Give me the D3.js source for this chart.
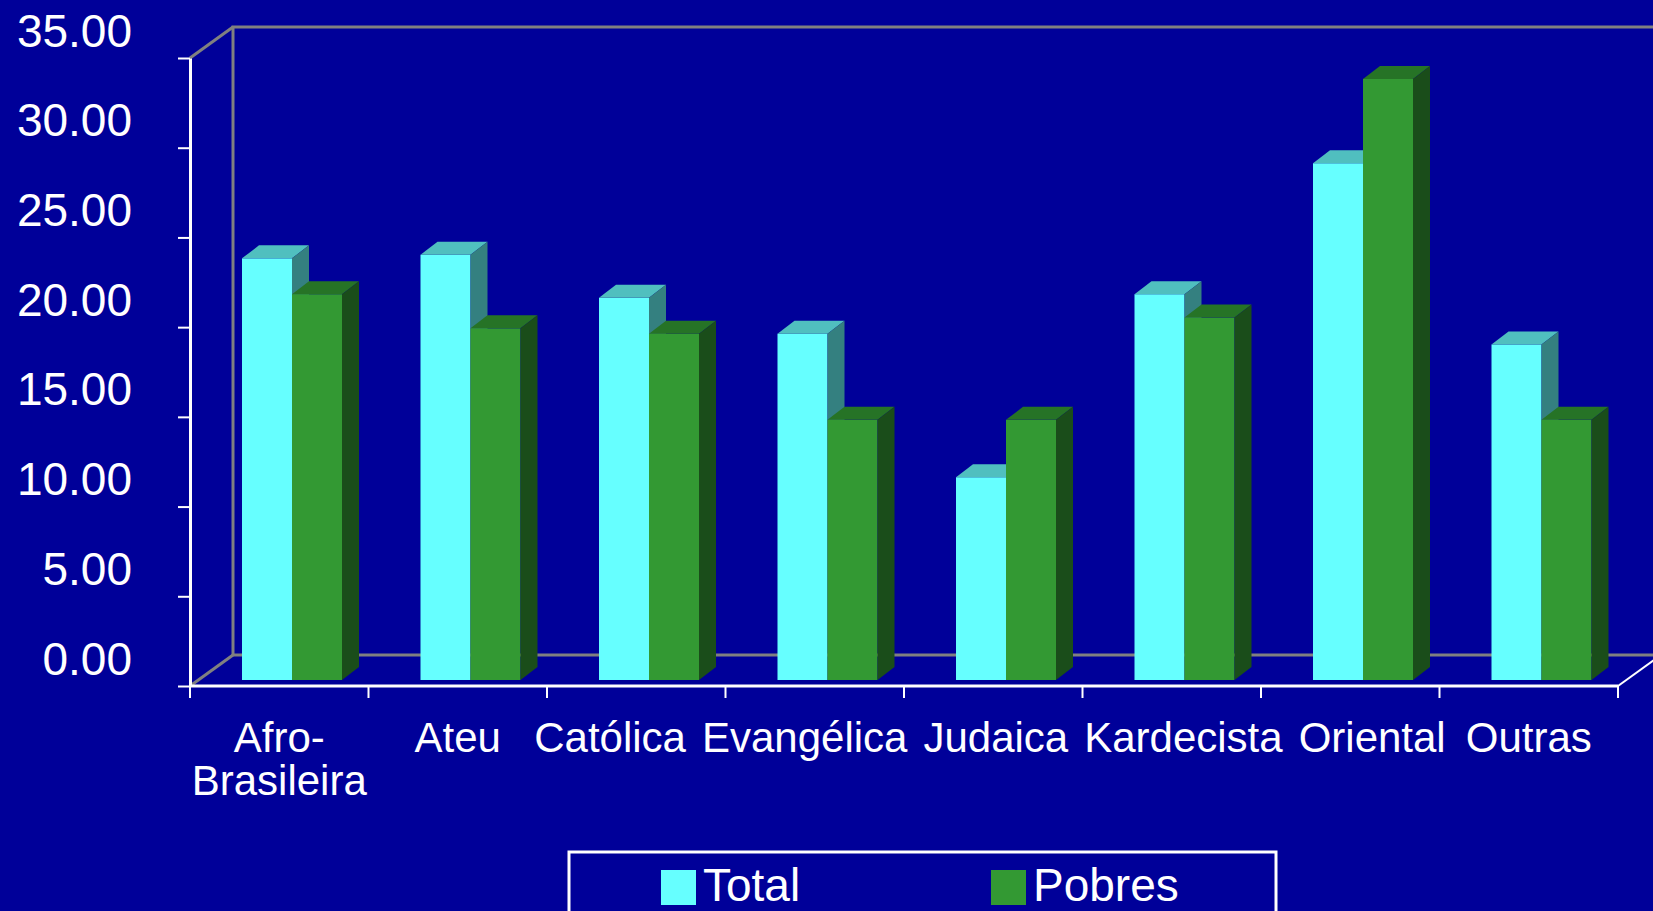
<!DOCTYPE html>
<html>
<head>
<meta charset="utf-8">
<script src="https://cdn.jsdelivr.net/npm/d3@7"></script>
<style>
  body { margin: 0; background: #000099; }
  svg { display: block; font-family: "Liberation Sans", Arial, sans-serif; }
</style>
</head>
<body>
<svg id="viz"></svg>
<script>
// data
const categories = ["Afro-Brasileira", "Ateu", "Católica", "Evangélica", "Judaica", "Kardecista", "Oriental", "Outras"];
const seriesNames = ["Total", "Pobres"];
const totalValues = [23.5, 23.7, 21.3, 19.3, 11.3, 21.5, 28.8, 18.7];
const pobresValues = [21.5, 19.6, 19.3, 14.5, 14.5, 20.2, 33.5, 14.5];
const yTicks = [0, 5, 10, 15, 20, 25, 30, 35];

const width = 1653, height = 911;

// colours: front, top, side
const colors = {
  Total:  { front: "#66ffff", top: "#50bfbf", side: "#348080" },
  Pobres: { front: "#339933", top: "#267326", side: "#1a4d1a" }
};

const svg = d3.select("#viz")
  .attr("width", width)
  .attr("height", height);

svg.append("rect")
  .attr("width", width)
  .attr("height", height)
  .attr("fill", "#000099");

// front plane scales
const x0 = d3.scaleBand().domain(categories).range([190, 1618]);
const x1 = d3.scaleBand().domain(seriesNames).range([52, 152]);
const y = d3.scaleLinear().domain([0, 35]).range([686, 58]);
// bars stand a little behind the front plane
const yBar = d3.scaleLinear().domain([0, 35]).range([680, 52]);

const wallDx = 43, wallDy = -31;   // depth of the box
const barDx = 17, barDy = -13;     // depth of a bar

// back walls (grey)
const walls = svg.append("g")
  .attr("stroke", "#808080")
  .attr("stroke-width", 3)
  .attr("fill", "none");

const x0L = x0.range()[0], x0R = x0.range()[1];
walls.append("path").attr("d", d3.line()([
  [width + 10, y(35) + wallDy],
  [x0L + wallDx, y(35) + wallDy],
  [x0L + wallDx, y(0) + wallDy],
  [width + 10, y(0) + wallDy]
]));
walls.append("path").attr("d", d3.line()([[x0L, y(35)], [x0L + wallDx, y(35) + wallDy]]));
walls.append("path").attr("d", d3.line()([[x0L, y(0)], [x0L + wallDx, y(0) + wallDy]]));

// bars
const rows = categories.map((c, i) => ({
  cat: c,
  vals: [
    { name: "Total", v: totalValues[i] },
    { name: "Pobres", v: pobresValues[i] }
  ]
}));

const groups = svg.append("g").selectAll("g")
  .data(rows)
  .join("g")
  .attr("transform", d => "translate(" + x0(d.cat) + ",0)");

const bars = groups.selectAll("g")
  .data(d => d.vals)
  .join("g");

bars.each(function(d) {
  const g = d3.select(this);
  const xl = x1(d.name), xr = xl + x1.bandwidth();
  const yt = yBar(d.v), yb = yBar(0);
  const c = colors[d.name];
  g.append("rect")
    .attr("x", xl).attr("y", yt)
    .attr("width", xr - xl).attr("height", yb - yt)
    .attr("fill", c.front);
  g.append("path")
    .attr("d", d3.line()([[xl, yt], [xl + barDx, yt + barDy], [xr + barDx, yt + barDy], [xr, yt]]) + "Z")
    .attr("fill", c.top);
  g.append("path")
    .attr("d", d3.line()([[xr, yt], [xr + barDx, yt + barDy], [xr + barDx, yb + barDy], [xr, yb]]) + "Z")
    .attr("fill", c.side);
});

// front axes (white)
const yAxis = d3.axisLeft(y)
  .tickValues(yTicks)
  .tickFormat(d3.format(".2f"))
  .tickSizeInner(12)
  .tickSizeOuter(0)
  .tickPadding(46);

const yg = svg.append("g")
  .attr("transform", "translate(" + x0L + ",0)")
  .call(yAxis);
yg.select(".domain").attr("stroke", "#ffffff").attr("stroke-width", 3);
yg.selectAll(".tick line").attr("stroke", "#ffffff").attr("stroke-width", 2);
yg.selectAll(".tick text")
  .attr("fill", "#ffffff")
  .attr("font-size", 46)
  .attr("font-family", "'Liberation Sans', Arial, sans-serif")
  .attr("dy", "-12px");

// floor front edge and right edge
svg.append("path")
  .attr("d", d3.line()([[x0L, y(0)], [x0R, y(0)]]))
  .attr("stroke", "#ffffff").attr("stroke-width", 3);
svg.append("path")
  .attr("d", d3.line()([[x0R, y(0)], [x0R + wallDx, y(0) + wallDy]]))
  .attr("stroke", "#ffffff").attr("stroke-width", 2);

// x ticks at band edges
const edges = categories.map(c => x0(c)).concat([x0R]);
svg.append("g").selectAll("line")
  .data(edges)
  .join("line")
  .attr("x1", d => d).attr("x2", d => d)
  .attr("y1", y(0)).attr("y2", y(0) + 12)
  .attr("stroke", "#ffffff").attr("stroke-width", 2);

// category labels, split after a hyphen
const labels = svg.append("g").selectAll("text")
  .data(categories)
  .join("text")
  .attr("y", 752)
  .attr("text-anchor", "middle")
  .attr("fill", "#ffffff")
  .attr("font-size", 42);

labels.each(function(d) {
  const k = d.indexOf("-");
  const parts = k >= 0 ? [d.slice(0, k + 1), d.slice(k + 1)] : [d];
  const t = d3.select(this);
  parts.forEach((p, j) => {
    t.append("tspan")
      .attr("dy", j === 0 ? 0 : 43)
      .text(p);
  });
});

// spread labels apart so neighbours keep a small gap
const gap = 16;
const pos = categories.map(c => x0(c) + x0.bandwidth() / 2);
const widths = [];
labels.each(function() {
  let w = 0;
  d3.select(this).selectAll("tspan").each(function() {
    w = Math.max(w, this.getComputedTextLength());
  });
  widths.push(w);
});
for (let it = 0; it < 100; it++) {
  for (let i = 0; i < pos.length - 1; i++) {
    const over = (pos[i] + widths[i] / 2 + gap) - (pos[i + 1] - widths[i + 1] / 2);
    if (over > 0) {
      pos[i] -= over / 2;
      pos[i + 1] += over / 2;
    }
  }
}
labels.each(function(d, i) {
  d3.select(this).selectAll("tspan").attr("x", pos[i]);
});

// legend
const legend = svg.append("g");
legend.append("rect")
  .attr("x", 569).attr("y", 852)
  .attr("width", 707).attr("height", 80)
  .attr("fill", "none")
  .attr("stroke", "#ffffff")
  .attr("stroke-width", 3);

const legendX = d3.scalePoint().domain(seriesNames).range([661, 991]);
const items = legend.selectAll("g.item")
  .data(seriesNames)
  .join("g")
  .attr("class", "item")
  .attr("transform", d => "translate(" + legendX(d) + ",870)");
items.append("rect")
  .attr("width", 35).attr("height", 35)
  .attr("fill", d => colors[d].front);
items.append("text")
  .attr("x", 42).attr("y", 31)
  .attr("fill", "#ffffff")
  .attr("font-size", 46)
  .text(d => d);
</script>
</body>
</html>
